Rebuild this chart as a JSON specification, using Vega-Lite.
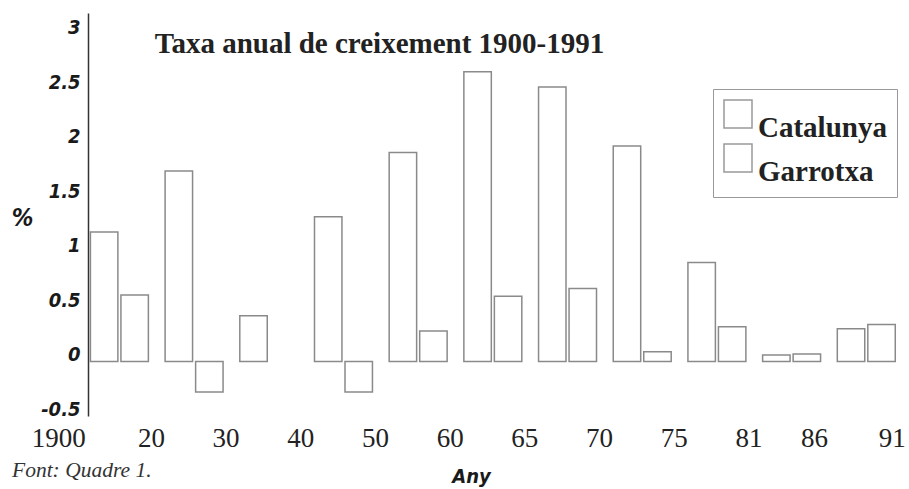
{
  "$schema": "https://vega.github.io/schema/vega-lite/v6.json",
  "width": 887,
  "height": 403,
  "autosize": {"type": "none"},
  "padding": {"left": 12, "top": 13, "right": 10, "bottom": 73},
  "background": "white",
  "config": {"view": {"stroke": null}},
  "title": {
    "text": "Font: Quadre 1.",
    "orient": "bottom",
    "anchor": "start",
    "frame": "group",
    "font": "Liberation Serif",
    "fontStyle": "italic",
    "fontWeight": "normal",
    "fontSize": 21.5,
    "color": "#333333",
    "offset": 0,
    "baseline": "alphabetic",
    "dy": -9
  },
  "data": {
    "values": [
      {"periode": "1900-20", "serie": "Catalunya", "taxa": 1.19},
      {"periode": "1900-20", "serie": "Garrotxa", "taxa": 0.61},
      {"periode": "20-30", "serie": "Catalunya", "taxa": 1.75},
      {"periode": "20-30", "serie": "Garrotxa", "taxa": -0.28},
      {"periode": "30-40", "serie": "Catalunya", "taxa": 0.42},
      {"periode": "40-50", "serie": "Catalunya", "taxa": 1.33},
      {"periode": "40-50", "serie": "Garrotxa", "taxa": -0.28},
      {"periode": "50-60", "serie": "Catalunya", "taxa": 1.92},
      {"periode": "50-60", "serie": "Garrotxa", "taxa": 0.28},
      {"periode": "60-65", "serie": "Catalunya", "taxa": 2.66},
      {"periode": "60-65", "serie": "Garrotxa", "taxa": 0.6},
      {"periode": "65-70", "serie": "Catalunya", "taxa": 2.52},
      {"periode": "65-70", "serie": "Garrotxa", "taxa": 0.67},
      {"periode": "70-75", "serie": "Catalunya", "taxa": 1.98},
      {"periode": "70-75", "serie": "Garrotxa", "taxa": 0.09},
      {"periode": "75-81", "serie": "Catalunya", "taxa": 0.91},
      {"periode": "75-81", "serie": "Garrotxa", "taxa": 0.32},
      {"periode": "81-86", "serie": "Catalunya", "taxa": 0.06},
      {"periode": "81-86", "serie": "Garrotxa", "taxa": 0.07},
      {"periode": "86-91", "serie": "Catalunya", "taxa": 0.3},
      {"periode": "86-91", "serie": "Garrotxa", "taxa": 0.34}
    ]
  },
  "encoding": {
    "y": {
      "field": "taxa",
      "type": "quantitative",
      "scale": {"domain": [-0.5, 3.2], "nice": false, "zero": false},
      "axis": {
        "offset": -76,
        "values": [-0.5, 0, 0.5, 1, 1.5, 2, 2.5, 3],
        "labelExpr": "'' + datum.value",
        "grid": false,
        "ticks": false,
        "tickSize": 0,
        "domain": true,
        "domainColor": "#333333",
        "domainWidth": 1.5,
        "labelFont": "DejaVu Sans Condensed, DejaVu Sans",
        "labelFontStyle": "italic",
        "labelFontWeight": "bold",
        "labelFontSize": 20,
        "labelColor": "#1a1a1a",
        "labelPadding": 8,
        "labelBaseline": "alphabetic",
        "labelOffset": -1,
        "title": "%",
        "titleAngle": 0,
        "titleFont": "DejaVu Sans Condensed, DejaVu Sans",
        "titleFontStyle": "italic",
        "titleFontWeight": "bold",
        "titleFontSize": 24,
        "titleColor": "#1a1a1a",
        "titleAlign": "center",
        "titleBaseline": "middle",
        "titleX": -66,
        "titleY": 205
      }
    },
    "xOffset": {
      "field": "serie",
      "type": "nominal",
      "scale": {"domain": ["Catalunya", "Garrotxa"], "paddingInner": 0.1}
    },
    "color": {
      "field": "serie",
      "type": "nominal",
      "scale": {"domain": ["Catalunya", "Garrotxa"], "range": ["#ffffff", "#ffffff"]},
      "legend": {
        "orient": "none",
        "legendX": 701,
        "legendY": 76,
        "title": null,
        "strokeColor": "#999999",
        "fillColor": "#ffffff",
        "padding": 10,
        "symbolType": "square",
        "symbolSize": 784,
        "symbolStrokeColor": "#999999",
        "symbolStrokeWidth": 1.5,
        "symbolFillColor": "#ffffff",
        "labelFont": "Liberation Serif",
        "labelFontWeight": "bold",
        "labelFontSize": 29,
        "labelColor": "#222222",
        "labelBaseline": "top",
        "labelOffset": 5,
        "rowPadding": -15,
        "labelLimit": 300
      }
    }
  },
  "layer": [
    {
      "transform": [{"filter": "datum.serie === 'Catalunya'"}],
      "mark": {"type": "bar", "stroke": "#8a8a8a", "strokeWidth": 1.5},
      "encoding": {
        "x": {
          "field": "periode",
          "type": "nominal",
          "scale": {
            "domain": ["1900", "1900-20", "20-30", "30-40", "40-50", "50-60", "60-65", "65-70", "70-75", "75-81", "81-86", "86-91"],
            "paddingInner": 0.224,
            "paddingOuter": 0.05
          },
          "axis": {
            "orient": "bottom",
            "labelExpr": "indexof(datum.value, '-') >= 0 ? split(datum.value, '-')[1] : datum.value",
            "labelAngle": 0,
            "domain": false,
            "ticks": false,
            "tickSize": 0,
            "grid": false,
            "labelFont": "Liberation Serif",
            "labelFontSize": 27,
            "labelColor": "#222222",
            "labelPadding": 9,
            "labelBaseline": "top",
            "labelOffset": {
              "condition": [
                {"test": "datum.value === '1900'", "value": 14},
                {"test": "datum.value === '81-86'", "value": 23},
                {"test": "datum.value === '86-91'", "value": 26}
              ],
              "value": 32
            },
            "title": "Any",
            "titleFont": "DejaVu Sans Condensed, DejaVu Sans",
            "titleFontStyle": "italic",
            "titleFontWeight": "bold",
            "titleFontSize": 20,
            "titleColor": "#1a1a1a",
            "titleX": 459,
            "titleY": 60,
            "titleBaseline": "middle",
            "titleAlign": "center"
          }
        }
      }
    },
    {
      "transform": [{"filter": "datum.serie === 'Garrotxa'"}],
      "mark": {"type": "bar", "stroke": "#8a8a8a", "strokeWidth": 1.5},
      "encoding": {
        "x": {
          "field": "periode",
          "type": "nominal",
          "axis": {
            "orient": "top",
            "labels": false,
            "domain": false,
            "ticks": false,
            "grid": false,
            "title": "Taxa anual de creixement 1900-1991",
            "titleFont": "Liberation Serif",
            "titleFontWeight": "bold",
            "titleFontSize": 29,
            "titleColor": "#222222",
            "titleX": 367,
            "titleY": 39,
            "titleAlign": "center",
            "titleBaseline": "alphabetic"
          }
        }
      }
    }
  ],
  "resolve": {"axis": {"x": "independent"}}
}
